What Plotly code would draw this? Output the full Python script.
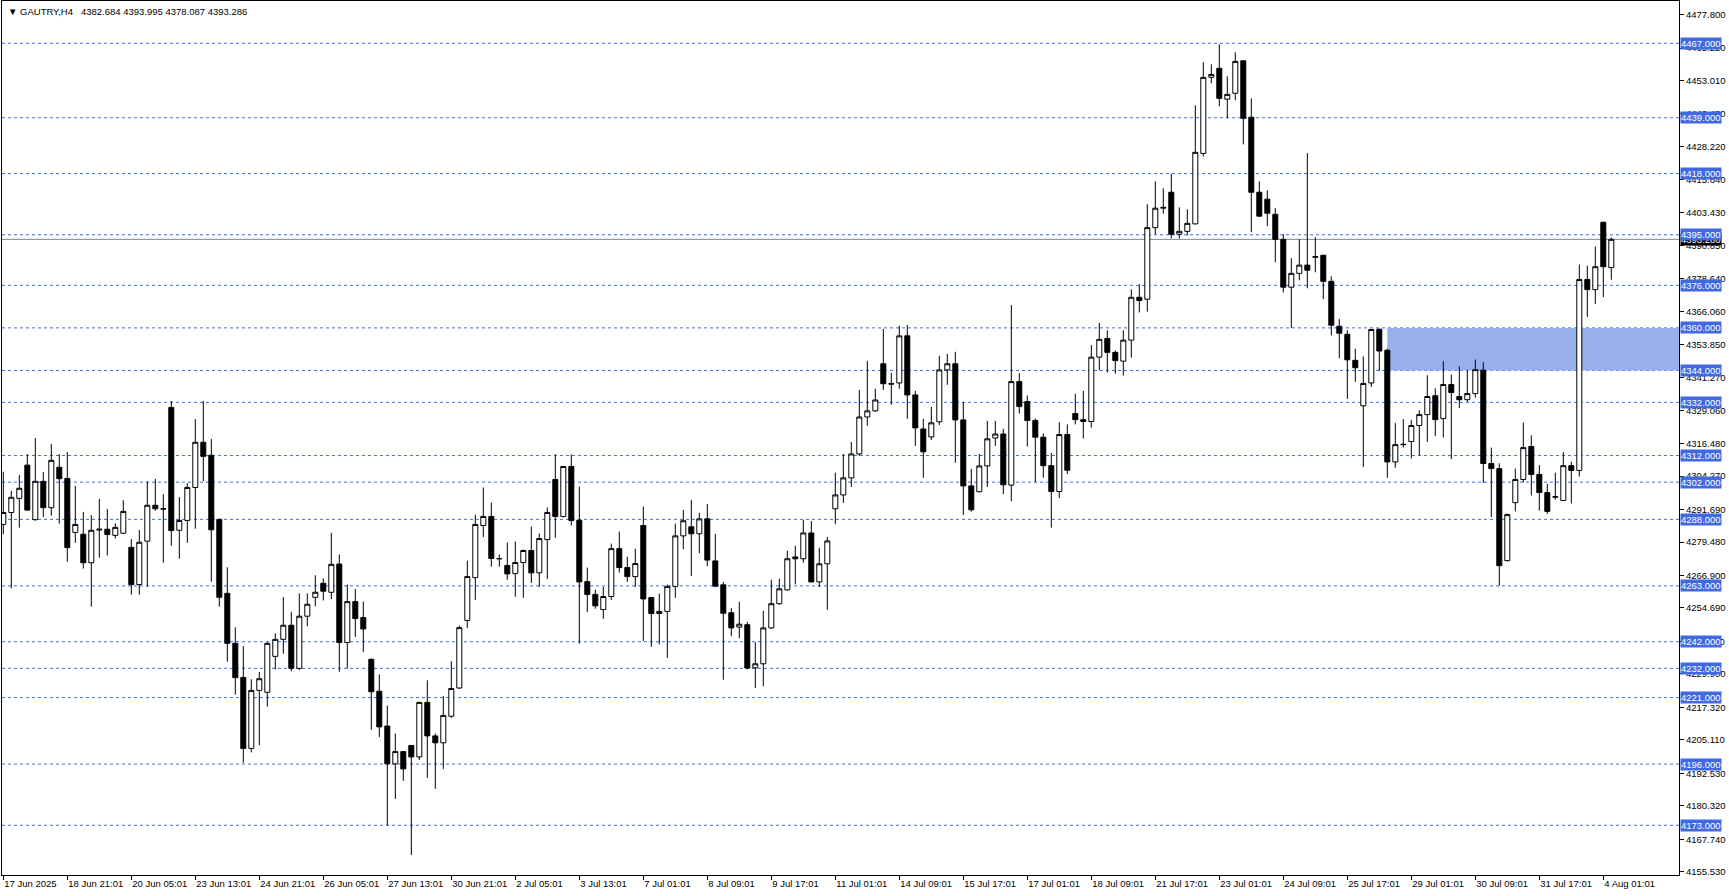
import plotly.graph_objects as go

# ---------------- data (H4 bars, GAUTRY) ----------------
opens = [4286.1, 4290.6, 4295.9, 4308.4, 4287.9, 4302.3, 4292.4, 4307.6, 4303.4, 4283.1,
         4282.4, 4271.7, 4284.0, 4284.3, 4282.0, 4282.8, 4277.5, 4263.5, 4279.8, 4293.3,
         4292.0, 4330.1, 4283.9, 4287.6, 4300.0, 4317.0, 4312.1, 4288.0, 4260.2, 4241.4,
         4228.6, 4201.9, 4223.7, 4223.0, 4236.5, 4242.9, 4248.2, 4232.0, 4251.6, 4258.7,
         4264.0, 4260.6, 4271.2, 4241.7, 4257.1, 4251.1, 4235.4, 4223.4, 4210.3, 4196.1,
         4200.7, 4203.0, 4198.7, 4219.2, 4206.6, 4204.0, 4214.0, 4224.6, 4250.0, 4266.1,
         4285.7, 4289.1, 4273.3, 4270.7, 4267.6, 4271.8, 4276.3, 4267.9, 4280.4, 4303.0,
         4289.1, 4307.9, 4287.7, 4264.6, 4259.8, 4254.1, 4259.0, 4277.0, 4269.9, 4266.5,
         4285.7, 4258.6, 4252.6, 4253.4, 4262.8, 4281.8, 4285.2, 4282.6, 4288.2, 4272.4,
         4263.4, 4252.9, 4247.5, 4248.4, 4232.2, 4233.7, 4247.2, 4256.3, 4261.5, 4273.9,
         4273.2, 4282.9, 4264.5, 4271.3, 4292.0, 4297.2, 4303.6, 4312.6, 4326.5, 4328.8,
         4346.5, 4339.0, 4339.3, 4357.0, 4334.8, 4322.0, 4319.0, 4324.7, 4344.2, 4346.5,
         4325.4, 4300.6, 4298.4, 4308.1, 4318.6, 4320.1, 4300.9, 4339.8, 4332.3, 4325.2,
         4318.9, 4308.2, 4298.5, 4319.9, 4327.8, 4325.5, 4324.8, 4349.0, 4356.0, 4350.8,
         4347.5, 4355.4, 4371.5, 4370.8, 4397.7, 4405.0, 4411.0, 4395.2, 4396.3, 4399.1,
         4425.6, 4454.2, 4457.6, 4446.0, 4448.2, 4460.4, 4439.2, 4411.0, 4408.4, 4402.7,
         4393.3, 4375.3, 4380.5, 4383.6, 4386.8, 4387.3, 4377.5, 4360.6, 4357.6, 4347.8,
         4330.7, 4339.3, 4359.5, 4351.6, 4309.6, 4316.1, 4317.3, 4323.3, 4327.4, 4334.5,
         4325.9, 4338.7, 4334.2, 4333.0, 4335.3, 4344.1, 4309.0, 4307.1, 4272.5, 4294.3,
         4303.0, 4315.4, 4304.9, 4298.1, 4296.5, 4295.1, 4308.2, 4306.4, 4378.2, 4374.4,
         4399.7, 4382.684]
highs = [4305.9, 4298.7, 4304.7, 4312.5, 4318.6, 4305.8, 4316.3, 4312.5, 4313.3, 4300.6,
         4290.8, 4289.6, 4295.7, 4291.9, 4286.5, 4295.2, 4280.6, 4284.0, 4302.3, 4303.2,
         4297.5, 4332.5, 4296.4, 4301.6, 4325.7, 4332.5, 4318.2, 4288.4, 4270.0, 4247.4,
         4240.4, 4227.9, 4230.6, 4241.8, 4245.2, 4258.8, 4253.2, 4260.2, 4260.2, 4267.0,
         4265.8, 4282.9, 4274.8, 4263.5, 4261.8, 4257.1, 4235.7, 4229.7, 4218.0, 4207.5,
         4200.9, 4203.2, 4219.4, 4227.5, 4207.5, 4221.5, 4234.7, 4248.1, 4272.5, 4289.8,
         4300.0, 4294.3, 4274.8, 4279.3, 4279.7, 4276.7, 4285.3, 4282.7, 4292.5, 4312.4,
         4307.9, 4312.4, 4300.3, 4269.9, 4261.6, 4262.6, 4278.9, 4283.4, 4274.0, 4277.0,
         4292.8, 4258.6, 4260.1, 4263.5, 4286.4, 4291.6, 4295.3, 4290.5, 4293.8, 4282.6,
         4264.5, 4254.7, 4257.0, 4249.5, 4241.8, 4253.6, 4265.3, 4265.7, 4276.2, 4278.1,
         4287.8, 4287.4, 4277.3, 4281.4, 4305.5, 4312.6, 4317.1, 4336.7, 4347.6, 4337.1,
         4359.6, 4343.1, 4360.8, 4361.1, 4336.3, 4325.8, 4330.3, 4349.5, 4350.2, 4351.0,
         4332.2, 4307.0, 4312.6, 4325.0, 4325.0, 4322.0, 4368.6, 4343.0, 4334.6, 4325.9,
         4320.3, 4313.0, 4324.5, 4323.7, 4335.2, 4336.3, 4353.5, 4361.9, 4359.1, 4351.5,
         4359.1, 4374.5, 4376.4, 4406.5, 4415.1, 4412.5, 4417.9, 4405.3, 4404.6, 4443.7,
         4459.9, 4459.1, 4466.6, 4454.6, 4463.6, 4460.6, 4446.3, 4415.1, 4411.7, 4405.0,
         4395.2, 4386.2, 4393.3, 4425.7, 4394.1, 4387.5, 4379.4, 4363.3, 4359.1, 4352.2,
         4349.3, 4359.4, 4359.7, 4352.2, 4324.2, 4325.7, 4325.3, 4329.0, 4342.2, 4337.3,
         4347.5, 4342.4, 4345.5, 4344.1, 4348.1, 4347.1, 4315.0, 4309.1, 4290.2, 4307.1,
         4324.4, 4319.6, 4308.4, 4301.4, 4305.5, 4313.3, 4309.7, 4383.8, 4383.4, 4390.6,
         4399.9, 4393.995]
lows = [4282.4, 4262.1, 4284.9, 4291.2, 4287.5, 4288.9, 4289.4, 4286.4, 4272.1, 4279.2,
        4269.5, 4255.2, 4273.6, 4274.4, 4280.8, 4282.6, 4259.7, 4259.7, 4262.7, 4291.3,
        4271.7, 4278.1, 4273.2, 4279.2, 4284.5, 4302.4, 4264.6, 4255.2, 4234.5, 4222.1,
        4196.5, 4200.4, 4203.1, 4217.6, 4231.6, 4237.5, 4230.9, 4231.3, 4247.8, 4255.3,
        4257.5, 4258.0, 4230.7, 4231.9, 4243.8, 4238.2, 4208.9, 4206.2, 4172.9, 4182.9,
        4189.7, 4161.8, 4197.5, 4190.8, 4186.7, 4194.2, 4213.4, 4224.3, 4247.2, 4257.7,
        4281.4, 4270.2, 4270.2, 4265.3, 4258.9, 4258.5, 4264.1, 4262.6, 4265.6, 4281.1,
        4288.7, 4285.7, 4241.3, 4253.2, 4254.4, 4250.6, 4257.7, 4268.0, 4264.5, 4262.6,
        4242.3, 4240.1, 4241.0, 4235.9, 4258.5, 4276.8, 4266.7, 4275.3, 4270.4, 4262.5,
        4227.7, 4244.1, 4243.3, 4231.7, 4224.6, 4225.3, 4246.8, 4255.9, 4261.3, 4263.6,
        4271.7, 4264.3, 4262.6, 4254.0, 4286.2, 4294.2, 4300.2, 4311.9, 4323.2, 4328.4,
        4336.7, 4331.1, 4337.1, 4325.8, 4315.6, 4303.6, 4317.8, 4323.5, 4338.6, 4309.3,
        4289.7, 4290.9, 4298.2, 4300.2, 4315.6, 4297.5, 4294.8, 4327.8, 4315.4, 4302.0,
        4303.7, 4284.9, 4296.0, 4305.0, 4323.7, 4318.4, 4322.5, 4344.0, 4343.2, 4342.8,
        4342.1, 4348.8, 4365.8, 4366.1, 4395.2, 4403.0, 4393.7, 4393.6, 4394.8, 4398.9,
        4424.4, 4452.0, 4443.3, 4438.8, 4445.6, 4429.0, 4396.0, 4401.8, 4398.2, 4384.7,
        4373.3, 4359.9, 4377.9, 4374.9, 4380.9, 4370.8, 4357.2, 4348.6, 4333.3, 4339.7,
        4307.7, 4337.8, 4343.8, 4303.6, 4307.4, 4315.0, 4310.9, 4312.0, 4317.1, 4319.4,
        4318.8, 4310.7, 4329.9, 4332.2, 4333.8, 4301.7, 4288.9, 4263.1, 4272.1, 4291.0,
        4301.9, 4297.0, 4291.3, 4290.1, 4295.4, 4295.0, 4294.0, 4304.1, 4364.1, 4369.0,
        4371.6, 4378.087]
closes = [4290.6, 4296.3, 4299.7, 4291.5, 4302.3, 4292.4, 4310.2, 4303.3, 4277.4, 4286.1,
          4271.7, 4283.9, 4284.3, 4282.3, 4285.0, 4291.0, 4263.5, 4279.4, 4293.3, 4292.0,
          4291.9, 4283.8, 4287.6, 4300.0, 4317.0, 4311.7, 4284.1, 4258.7, 4241.4, 4228.5,
          4201.9, 4223.7, 4228.1, 4241.4, 4242.9, 4248.2, 4232.0, 4251.6, 4256.1, 4260.6,
          4261.0, 4271.1, 4241.7, 4257.1, 4250.7, 4246.8, 4223.2, 4210.0, 4196.1, 4200.7,
          4194.2, 4198.7, 4219.2, 4206.6, 4204.0, 4214.3, 4224.4, 4247.3, 4266.5, 4286.1,
          4289.1, 4273.3, 4273.2, 4267.5, 4271.8, 4276.3, 4267.9, 4280.8, 4290.6, 4289.1,
          4307.9, 4287.6, 4264.5, 4259.8, 4255.5, 4259.0, 4277.0, 4269.9, 4266.5, 4271.4,
          4258.1, 4252.6, 4253.4, 4262.8, 4281.8, 4287.5, 4282.6, 4288.2, 4272.7, 4262.9,
          4252.7, 4247.2, 4248.6, 4232.1, 4233.7, 4247.2, 4256.3, 4261.9, 4273.2, 4273.2,
          4282.9, 4264.5, 4271.3, 4279.9, 4297.2, 4303.6, 4312.6, 4326.5, 4328.8, 4332.9,
          4339.0, 4338.9, 4357.0, 4334.8, 4322.4, 4313.4, 4324.3, 4344.2, 4346.5, 4325.4,
          4300.6, 4291.6, 4308.1, 4318.3, 4320.1, 4301.0, 4339.8, 4330.4, 4325.2, 4318.9,
          4308.2, 4298.5, 4319.9, 4306.5, 4325.5, 4324.8, 4349.0, 4355.7, 4350.8, 4347.7,
          4355.4, 4371.5, 4370.3, 4397.7, 4405.0, 4405.3, 4395.2, 4396.3, 4399.3, 4426.0,
          4454.2, 4455.3, 4446.3, 4447.8, 4460.2, 4438.8, 4411.0, 4402.0, 4403.1, 4393.3,
          4375.3, 4380.5, 4383.6, 4381.7, 4386.6, 4377.5, 4361.0, 4358.0, 4348.0, 4345.0,
          4339.1, 4359.4, 4351.3, 4309.6, 4316.1, 4316.2, 4323.3, 4327.4, 4334.2, 4325.5,
          4338.7, 4335.7, 4333.0, 4335.3, 4344.3, 4309.0, 4307.1, 4270.6, 4289.8, 4303.0,
          4315.0, 4304.9, 4298.1, 4291.0, 4296.4, 4308.2, 4306.4, 4378.2, 4374.4, 4383.0,
          4383.0, 4393.286]
bars = list(range(len(opens)))

time_labels = ["17 Jun 2025", "18 Jun 21:01", "20 Jun 05:01", "23 Jun 13:01", "24 Jun 21:01",
               "26 Jun 05:01", "27 Jun 13:01", "30 Jun 21:01", "2 Jul 05:01", "3 Jul 13:01",
               "7 Jul 01:01", "8 Jul 09:01", "9 Jul 17:01", "11 Jul 01:01", "14 Jul 09:01",
               "15 Jul 17:01", "17 Jul 01:01", "18 Jul 09:01", "21 Jul 17:01", "23 Jul 01:01",
               "24 Jul 09:01", "25 Jul 17:01", "29 Jul 01:01", "30 Jul 09:01", "31 Jul 17:01",
               "4 Aug 01:01"]
time_label_bars = [8 * k for k in range(len(time_labels))]

price_ticks = [4477.800, 4465.220, 4453.010, 4440.430, 4428.220, 4415.640, 4403.430,
               4390.850, 4378.640, 4366.060, 4353.850, 4341.270, 4329.060, 4316.480,
               4304.270, 4291.690, 4279.480, 4266.900, 4254.690, 4242.110, 4229.900,
               4217.320, 4205.110, 4192.530, 4180.320, 4167.740, 4155.530]

levels = [4467, 4439, 4418, 4395, 4376, 4360, 4344, 4332, 4312, 4302, 4288,
          4263, 4242, 4232, 4221, 4196, 4173]

zone_start_bar = 173
zone_low, zone_high = 4344, 4360
last_price = 4393.286
title_text = "\u25BC GAUTRY,H4\u00a0\u00a0 4382.684 4393.995 4378.087 4393.286"

# ---------------- style ----------------
W, H = 1729, 896
ML, MR, MT, MB = 2, 50, 1, 21
BAR_PX = 8.0
x_lo = -(3.3 - ML) / BAR_PX
x_hi = x_lo + (W - ML - MR) / BAR_PX
y_lo, y_hi = 4154.3, 4482.9

BLUE = "#4169E1"
ZONE = "#99AEEC"
FONT = "Tahoma, Liberation Sans, DejaVu Sans, sans-serif"

fig = go.Figure()
fig.add_trace(go.Candlestick(
    x=bars, open=opens, high=highs, low=lows, close=closes,
    increasing=dict(fillcolor="white", line=dict(color="black", width=1)),
    decreasing=dict(fillcolor="black", line=dict(color="black", width=1)),
    whiskerwidth=0, showlegend=False, hoverinfo="skip",
))

shapes = []
shapes.append(dict(type="rect", xref="x", yref="y", x0=zone_start_bar, x1=x_hi + 5,
                   y0=zone_low, y1=zone_high, fillcolor=ZONE, line=dict(width=0),
                   layer="below"))
for lv in levels:
    shapes.append(dict(type="line", xref="paper", yref="y", x0=0, x1=1, y0=lv, y1=lv,
                       line=dict(color=BLUE, width=1, dash="3px,3px"), layer="below"))
shapes.append(dict(type="line", xref="paper", yref="y", x0=0, x1=1, y0=last_price,
                   y1=last_price, line=dict(color="#778899", width=1), layer="below"))

annotations = []
annotations.append(dict(xref="paper", yref="y", x=1, y=last_price, xanchor="left",
                        yanchor="middle", xshift=1, text=f"{last_price:.3f}",
                        showarrow=False, bgcolor="black", borderpad=0,
                        font=dict(family=FONT, size=9.5, color="white")))
for lv in levels:
    annotations.append(dict(xref="paper", yref="y", x=1, y=lv, xanchor="left",
                            yanchor="middle", xshift=1, text=f"{lv:.3f}",
                            showarrow=False, bgcolor=BLUE, borderpad=0,
                            font=dict(family=FONT, size=9.5, color="white")))
annotations.append(dict(xref="paper", yref="paper", x=0, y=1, xanchor="left",
                        yanchor="top", xshift=4, yshift=-3, text=title_text,
                        showarrow=False,
                        font=dict(family=FONT, size=9.5, color="black")))

fig.update_layout(
    width=W, height=H,
    margin=dict(l=ML, r=MR, t=MT, b=MB),
    paper_bgcolor="white", plot_bgcolor="white",
    boxgap=0.375, boxgroupgap=0,
    shapes=shapes, annotations=annotations,
    showlegend=False, hovermode=False,
    xaxis=dict(range=[x_lo, x_hi], showgrid=False, zeroline=False,
               showline=True, mirror=True, linecolor="black", linewidth=1,
               ticks="outside", ticklen=4, tickcolor="black", tickwidth=1,
               tickmode="array", tickvals=time_label_bars, ticktext=time_labels,
               ticklabelposition="outside right",
               tickfont=dict(family=FONT, size=9.5, color="black"),
               rangeslider=dict(visible=False), fixedrange=True),
    yaxis=dict(range=[y_lo, y_hi], side="right", showgrid=False, zeroline=False,
               showline=True, mirror=True, linecolor="black", linewidth=1,
               ticks="outside", ticklen=4, tickcolor="black", tickwidth=1,
               tickmode="array", tickvals=price_ticks, tickformat=".3f",
               tickfont=dict(family=FONT, size=9.5, color="black"),
               fixedrange=True),
)

fig.write_html(
    "out.html",
    config={"displayModeBar": False},
    post_script="document.body.style.margin='0';document.body.style.overflow='hidden';",
)
